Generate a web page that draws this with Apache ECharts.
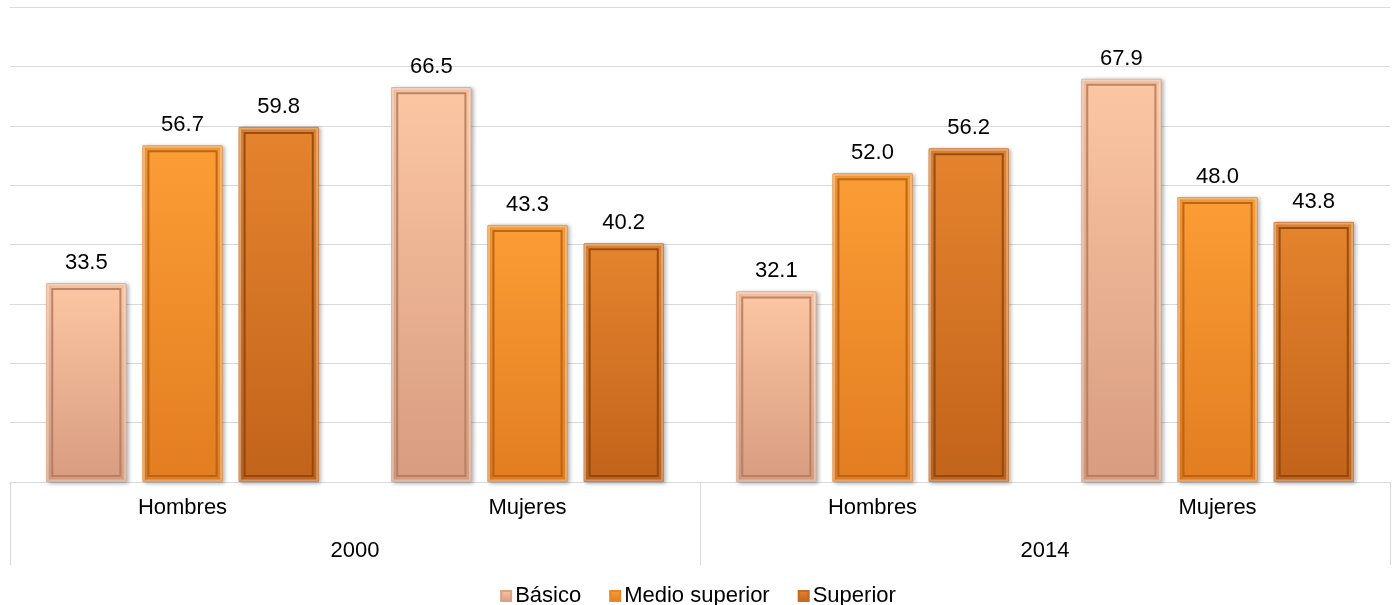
<!DOCTYPE html>
<html>
<head>
<meta charset="utf-8">
<script src="https://cdn.jsdelivr.net/npm/echarts@6/dist/echarts.min.js"></script>
<style>
html,body{margin:0;padding:0;background:#fff;}
#chart{width:1396px;height:605px;}
</style>
</head>
<body>
<div id="chart"></div>
<script>
const categories = ['Hombres', 'Mujeres', 'Hombres', 'Mujeres'];
const years = ['2000', '2014'];
const seriesNames = ['Básico', 'Medio superior', 'Superior'];
const basico = [33.5, 66.5, 32.1, 67.9];
const medioSuperior = [56.7, 43.3, 52.0, 48.0];
const superior = [59.8, 40.2, 56.2, 43.8];

const FONT = '"Liberation Sans", Arial, sans-serif';
const FS = 22;

function grad(top, bottom) {
  return {type: 'linear', x: 0, y: 0, x2: 0, y2: 1,
    colorStops: [{offset: 0, color: top}, {offset: 1, color: bottom}]};
}

const styles = [
  {fill: grad('#fcc6a3', '#d89c80'), edge: '#d9a282', inner: '#b07a5e'},
  {fill: grad('#fb9d35', '#e27d21'), edge: '#e8862a', inner: '#b25e14'},
  {fill: grad('#e5842e', '#c2631b'), edge: '#c56a22', inner: '#8a4512'}
];
const values = [basico, medioSuperior, superior];

const CAT_GAP = 0.21, BAR_GAP = 0.2;

// overlay data for the bevel frame, built from the same arrays
const frameData = [];
values.forEach((arr, si) => arr.forEach((v, ci) => frameData.push([ci, v, si])));

const chart = echarts.init(document.getElementById('chart'));
chart.setOption({
  animation: false,
  grid: {left: 10, right: 6, top: 7, bottom: 123, containLabel: false},
  legend: {
    top: 580, left: 'center',
    icon: 'rect', itemWidth: 10, itemHeight: 10, itemGap: 28,
    textStyle: {fontFamily: FONT, fontSize: FS, color: '#000', padding: [0, 0, 0, -1]},
    data: seriesNames
  },
  xAxis: [
    {
      type: 'category', data: categories, position: 'bottom',
      axisLine: {show: true, lineStyle: {color: '#d9d9d9', width: 1}},
      axisTick: {show: false},
      axisLabel: {fontFamily: FONT, fontSize: FS, color: '#000', margin: 15, interval: 0}
    },
    {
      type: 'category', data: years, position: 'bottom', offset: 0,
      axisLine: {show: false},
      axisTick: {show: true, length: 83, interval: 0, lineStyle: {color: '#d9d9d9', width: 1}},
      axisLabel: {fontFamily: FONT, fontSize: FS, color: '#000', margin: 58, interval: 0}
    }
  ],
  yAxis: {
    type: 'value', min: 0, max: 80, interval: 10,
    axisLabel: {show: false}, axisLine: {show: false}, axisTick: {show: false},
    splitLine: {show: true, lineStyle: {color: '#d9d9d9', width: 1}}
  },
  series: seriesNames.map((name, i) => ({
    name: name, type: 'bar', xAxisIndex: 0, data: values[i],
    barGap: (BAR_GAP * 100) + '%', barCategoryGap: (CAT_GAP * 100) + '%',
    itemStyle: {
      color: styles[i].fill,
      borderColor: styles[i].edge, borderWidth: 1,
      shadowColor: 'rgba(0,0,0,0.3)', shadowBlur: 4, shadowOffsetX: 2, shadowOffsetY: 1
    },
    label: {
      show: true, position: 'top', distance: 9,
      fontFamily: FONT, fontSize: FS, color: '#000',
      formatter: p => p.value.toFixed(1)
    }
  })).concat([{
    name: 'frame', type: 'custom', xAxisIndex: 0, z: 5, silent: true,
    data: frameData,
    encode: {x: 0, y: 1},
    renderItem: function (params, api) {
      const ci = api.value(0), v = api.value(1), si = api.value(2);
      const band = api.size([1, 0])[0];
      const w = band * (1 - CAT_GAP) / (3 + 2 * BAR_GAP);
      const top = api.coord([ci, v]);
      const base = api.coord([ci, 0])[1];
      const x = top[0] - band * (1 - CAT_GAP) / 2 + si * w * (1 + BAR_GAP);
      const ins = 6;
      return {
        type: 'group',
        children: [
          {type: 'rect', shape: {x: x + 1.5, y: top[1] + 1.5, width: w - 3, height: base - top[1] - 3},
            style: {fill: null, stroke: 'rgba(255,255,255,0.35)', lineWidth: 2}},
          {type: 'rect', shape: {x: x + ins, y: top[1] + ins, width: w - 2 * ins, height: base - top[1] - 2 * ins},
            style: {fill: null, stroke: styles[si].inner, lineWidth: 2, opacity: 0.85}}
        ]
      };
    }
  }])
});
</script>
</body>
</html>
